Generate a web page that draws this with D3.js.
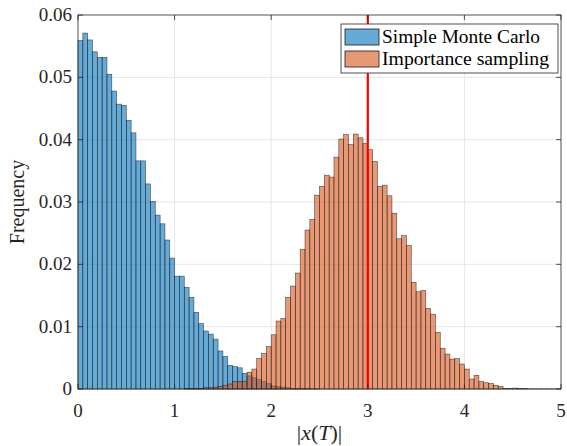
<!DOCTYPE html>
<html>
<head>
<meta charset="utf-8">
<script src="https://cdn.jsdelivr.net/npm/d3@7"></script>
<style>
  body { margin: 0; background: #fff; }
  svg { display: block; font-family: "Liberation Serif", "DejaVu Serif", serif; }
</style>
</head>
<body>
<div id="chart"></div>
<script>
// histogram bins of width 0.05 on [0, 5]
const binWidth = 0.05;

const simpleMonteCarlo = [
  0.0559, 0.0571, 0.0560, 0.0541, 0.0532, 0.0532, 0.0505, 0.0478, 0.0457, 0.0455,
  0.0431, 0.0411, 0.0366, 0.0366, 0.0329, 0.0301, 0.0279, 0.0265, 0.0239, 0.0210,
  0.0181, 0.0181, 0.0163, 0.0147, 0.0123, 0.0105, 0.0093, 0.0088, 0.0080, 0.0061,
  0.0052, 0.0038, 0.0036, 0.0034, 0.0025, 0.0021, 0.0018, 0.0015, 0.0012, 0.0009,
  0.0005, 0.0004, 0.0003, 0.0002, 0.0001, 0.0001, 0.00008, 0.00005, 0.00003, 0.00002
];

const importanceSampling = [
  0, 0, 0, 0, 0, 0, 0, 0, 0, 0,
  0, 0, 0, 0, 0, 0, 0, 0, 0, 0,
  0, 0, 0.0001, 0.0001, 0.0001, 0.0001, 0.0002, 0.0002, 0.0003, 0.0004,
  0.0006, 0.0008, 0.0012, 0.0012, 0.0012, 0.0027, 0.0032, 0.0049, 0.0057, 0.0068,
  0.0087, 0.0109, 0.0113, 0.0147, 0.0165, 0.0186, 0.0224, 0.0255, 0.0272, 0.0311,
  0.0325, 0.0343, 0.0340, 0.0372, 0.0401, 0.0408, 0.0392, 0.0409, 0.0403, 0.0394,
  0.0384, 0.0365, 0.0325, 0.0327, 0.0310, 0.0282, 0.0241, 0.0246, 0.0230, 0.0171,
  0.0156, 0.0158, 0.0129, 0.0120, 0.0091, 0.0065, 0.0056, 0.0048, 0.0049, 0.0040,
  0.0032, 0.0016, 0.0022, 0.0012, 0.0010, 0.0009, 0.0006, 0.0004, 0.0001, 0.00005,
  0.00015, 0.0001, 0.00005, 0.00003, 0.00002, 0.00002, 0.00002, 0.00002, 0.00002, 0.00002
];

const seriesNames = ["Simple Monte Carlo", "Importance sampling"];
const seriesColors = ["#0072BD", "#D95319"];
const xTicks = [0, 1, 2, 3, 4, 5];
const yTicks = [0, 0.01, 0.02, 0.03, 0.04, 0.05, 0.06];
const yTickLabels = ["0", "0.01", "0.02", "0.03", "0.04", "0.05", "0.06"];
const threshold = 3;

const width = 567;
const height = 446;
const margin = { top: 15, right: 6, bottom: 57, left: 78 };

const x = d3.scaleLinear().domain([0, 5]).range([margin.left, width - margin.right]);
const y = d3.scaleLinear().domain([0, 0.06]).range([height - margin.bottom, margin.top]);

const svg = d3.select("#chart").append("svg")
  .attr("width", width)
  .attr("height", height)
  .attr("viewBox", [0, 0, width, height]);

// grid
const grid = svg.append("g").attr("stroke", "#e6e6e6").attr("stroke-width", 1);
grid.selectAll(".gx").data(xTicks.slice(1, -1)).join("line")
  .attr("x1", d => x(d)).attr("x2", d => x(d))
  .attr("y1", y(0)).attr("y2", y(0.06));
grid.selectAll(".gy").data(yTicks.slice(1, -1)).join("line")
  .attr("x1", x(0)).attr("x2", x(5))
  .attr("y1", d => y(d)).attr("y2", d => y(d));

// histograms
[simpleMonteCarlo, importanceSampling].forEach((values, k) => {
  svg.append("g")
    .selectAll("rect")
    .data(values.map((v, i) => ({ i, v })).filter(d => d.v > 0))
    .join("rect")
    .attr("x", d => x(d.i * binWidth))
    .attr("width", d => x((d.i + 1) * binWidth) - x(d.i * binWidth))
    .attr("y", d => y(d.v))
    .attr("height", d => y(0) - y(d.v))
    .attr("fill", seriesColors[k])
    .attr("fill-opacity", 0.6)
    .attr("stroke", "#1a1a1a")
    .attr("stroke-opacity", 0.75)
    .attr("stroke-width", 0.6);
});

// threshold line
svg.append("line")
  .attr("x1", x(threshold)).attr("x2", x(threshold))
  .attr("y1", y(0)).attr("y2", y(0.06))
  .attr("stroke", "#ff0000")
  .attr("stroke-width", 2.2);

// axes box and inward ticks
const axisColor = "#262626";
svg.append("rect")
  .attr("x", x(0)).attr("y", y(0.06))
  .attr("width", x(5) - x(0)).attr("height", y(0) - y(0.06))
  .attr("fill", "none").attr("stroke", axisColor).attr("stroke-width", 0.8);

const tickLen = 5;
const ticks = svg.append("g").attr("stroke", axisColor).attr("stroke-width", 0.8);
xTicks.forEach(t => {
  ticks.append("line").attr("x1", x(t)).attr("x2", x(t)).attr("y1", y(0)).attr("y2", y(0) - tickLen);
  ticks.append("line").attr("x1", x(t)).attr("x2", x(t)).attr("y1", y(0.06)).attr("y2", y(0.06) + tickLen);
});
yTicks.forEach(t => {
  ticks.append("line").attr("x1", x(0)).attr("x2", x(0) + tickLen).attr("y1", y(t)).attr("y2", y(t));
  ticks.append("line").attr("x1", x(5)).attr("x2", x(5) - tickLen).attr("y1", y(t)).attr("y2", y(t));
});

// tick labels
svg.append("g")
  .attr("font-size", 19)
  .attr("fill", "#262626")
  .attr("text-anchor", "middle")
  .selectAll("text").data(xTicks).join("text")
  .attr("x", d => x(d))
  .attr("y", y(0) + 28)
  .text(d => d);

svg.append("g")
  .attr("font-size", 19)
  .attr("fill", "#262626")
  .attr("text-anchor", "end")
  .selectAll("text").data(yTicks).join("text")
  .attr("x", x(0) - 6)
  .attr("y", d => y(d) + 6)
  .text((d, i) => yTickLabels[i]);

// axis titles
const xLabel = svg.append("text")
  .attr("x", (x(0) + x(5)) / 2)
  .attr("y", height - 6)
  .attr("text-anchor", "middle")
  .attr("font-size", 22)
  .attr("fill", "#262626");
xLabel.append("tspan").text("|");
xLabel.append("tspan").attr("font-style", "italic").text("x");
xLabel.append("tspan").text("(");
xLabel.append("tspan").attr("font-style", "italic").text("T");
xLabel.append("tspan").text(")|");

svg.append("text")
  .attr("transform", `translate(24,${(y(0) + y(0.06)) / 2}) rotate(-90)`)
  .attr("text-anchor", "middle")
  .attr("font-size", 20)
  .attr("fill", "#262626")
  .text("Frequency");

// legend
const legendTextLength = [158, 167];
const legend = svg.append("g").attr("transform", "translate(341,24)");
legend.append("rect")
  .attr("width", 217).attr("height", 49)
  .attr("fill", "#fff").attr("stroke", "#262626").attr("stroke-width", 0.8);
seriesNames.forEach((name, k) => {
  const row = legend.append("g").attr("transform", `translate(4,${5 + k * 22})`);
  row.append("rect")
    .attr("width", 34).attr("height", 16)
    .attr("fill", seriesColors[k]).attr("fill-opacity", 0.6)
    .attr("stroke", "#1a1a1a").attr("stroke-width", 0.8);
  row.append("text")
    .attr("x", 37).attr("y", 14)
    .attr("font-size", 19)
    .attr("fill", "#000")
    .attr("textLength", legendTextLength[k])
    .attr("lengthAdjust", "spacingAndGlyphs")
    .text(name);
});
</script>
</body>
</html>
